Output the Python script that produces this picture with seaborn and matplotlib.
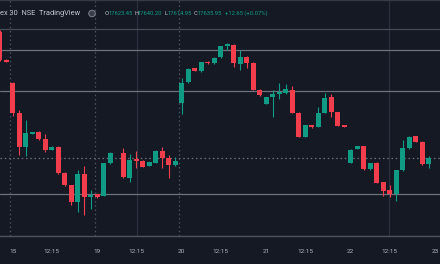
import numpy as np
import pandas as pd
import matplotlib
matplotlib.use("Agg")
import matplotlib.pyplot as plt
import seaborn as sns
from matplotlib.patches import Circle
from matplotlib.transforms import IdentityTransform

# ---- data (30-minute candles, index 0 = first candle of day 15) ----
nan = np.nan
candle_idx = list(range(-2, 65))
opens = [17899, 17841, 17792, 17729, 17660, 17687, 17690, 17675, 17654, 17660, 17606, 17580,
         17544, 17603, 17556, 17561, 17558, 17625, nan, 17646, 17595, 17632, 17631, 17620,
         17627, 17650, 17636, 17621, 17750, 17794, 17823, 17817, 17837, 17833, 17846, 17870,
         17872, 17832, 17847, 17835, 17778, 17749, 17764, 17770, 17771, 17778, 17731, 17681,
         17705, 17701, 17731, 17763, 17732, 17705, 17626, 17656, 17661, 17613, 17627, 17586,
         17569, 17561, 17611, 17657, 17682, 17670, 17623.45]
closes = [17840, 17837, 17729, 17660, 17688, 17689, 17675, 17654, 17660, 17605, 17580, 17544,
          17603, 17556, 17560, 17556, 17625, 17646, nan, 17596, 17633, 17631, 17618, 17628,
          17651, 17636, 17621, 17631, 17793, 17821, 17818, 17836, 17833, 17845, 17869, 17872,
          17833, 17847, 17834, 17778, 17767, 17763, 17770, 17772, 17779, 17731, 17681, 17704,
          17700, 17731, 17762, 17732, 17703, 17701, 17654, 17661, 17613, 17626, 17585, 17568,
          17561, 17611, 17658, 17681, 17670, 17623, 17635.95]
highs = [17903, 17842, 17794, 17737, 17715, 17690, 17692, 17687, 17661, 17661, 17607, 17581,
         17611, 17620, 17570, 17562, 17627, 17648, nan, 17657, 17645, 17651, 17632, 17629,
         17652, 17659, 17643, 17639, 17802, 17823, 17824, 17837, 17838, 17846, 17870, 17875,
         17874, 17861, 17849, 17836, 17779, 17764, 17778, 17792, 17791, 17786, 17732, 17705,
         17706, 17743, 17772, 17769, 17733, 17706, 17656, 17662, 17662, 17627, 17628, 17587,
         17581, 17612, 17674, 17682, 17683, 17671, 17640.20]
lows = [17838, 17836, 17724, 17643, 17640, 17686, 17673, 17649, 17653, 17603, 17578, 17539,
        17524, 17518, 17530, 17554, 17557, 17624, nan, 17595, 17587, 17615, 17617, 17619,
        17626, 17616, 17594, 17620, 17728, 17792, 17817, 17816, 17832, 17832, 17844, 17860,
        17826, 17820, 17824, 17777, 17766, 17748, 17722, 17759, 17770, 17730, 17680, 17680,
        17699, 17700, 17730, 17722, 17702, 17700, 17625, 17655, 17612, 17612, 17584, 17558,
        17555, 17547, 17610, 17656, 17669, 17622, 17614.95]

tick_pos = [0, 6, 13, 19, 26, 32, 39, 45, 52, 58, 65]
tick_labels = ["15", "12:15", "19", "12:15", "20", "12:15", "21", "12:15", "22", "12:15", "23"]
session_breaks = [-0.35, 12.65, 25.65]
faint_vlines = [19.1, 57.9]
drawn_levels = [17860, 17776, 17561.5]
upper_level = 17904
last_price = 17635.95

header_name = "ex 30  NSE  TradingView"
ohlc_labels = ["O", "H", "L", "C"]
ohlc_values = ["17623.45", "17640.20", "17614.95", "17635.95"]
change_text = "+12.65 (+0.07%)"

# ---- style ----
BG = "#151924"
UP = "#0f9b84"
DOWN = "#f23e4c"
sns.set_theme(style="dark", rc={"axes.facecolor": BG, "figure.facecolor": BG})
plt.rcParams["font.family"] = ["Roboto", "DejaVu Sans"]

df = pd.DataFrame({"i": candle_idx, "o": opens, "c": closes, "h": highs, "l": lows}).dropna()
df["up"] = df["c"] >= df["o"]
df["color"] = np.where(df["up"], UP, DOWN)
df["bottom"] = df[["o", "c"]].min(axis=1)
df["height"] = (df["c"] - df["o"]).abs().clip(lower=2.8)

fig = plt.figure(figsize=(4.4, 2.64), dpi=100)
ax = fig.add_axes([0, 28.5 / 264, 1, 235.5 / 264])
ax.set_facecolor(BG)

# grid / drawn lines
for xb in session_breaks:
    ax.axvline(xb, color="#4b5263", lw=0.9, ls=(0, (1.2, 2.2)), zorder=1)
for xv in faint_vlines:
    ax.axvline(xv, color="#2b303c", lw=0.9, zorder=1)
for lv in drawn_levels:
    ax.axhline(lv, color="#6e717b", lw=0.9, zorder=1)
ax.axhline(upper_level, color="#474b57", lw=0.9, zorder=1)
ax.axhline(last_price, color="#6e717b", lw=0.9, ls=(0, (1.2, 2.2)), zorder=1)

# candles
ax.vlines(df["i"], df["l"], df["h"], colors=df["color"], lw=0.8, zorder=2)
ax.bar(df["i"], df["height"], bottom=df["bottom"], width=0.82, color=df["color"],
       linewidth=0, zorder=3)

ax.set_xlim(-1.954, 65.74)
ax.set_ylim(17475.2, 17965)
ax.set_yticks([])
ax.set_xticks(tick_pos)
ax.set_xticklabels(tick_labels)
ax.tick_params(axis="x", length=0, pad=9.5, labelsize=4.6, colors="#b2b5be")
ax.grid(False)
for s in ["left", "right"]:
    ax.spines[s].set_visible(False)
ax.spines["bottom"].set_color("#50535e")
ax.spines["bottom"].set_linewidth(1.0)
ax.spines["top"].set_color("#363a45")
ax.spines["top"].set_linewidth(1.0)

# header legend
yh = 1 - 13.5 / 264
fig.text(0 / 440, yh, header_name, color="#c3c6ce", fontsize=5.3, va="center", ha="left")
fig.add_artist(Circle((92, 264 - 13.5), radius=3.3, transform=IdentityTransform(),
                      facecolor="#3a3e4a", edgecolor="#8a8d96", lw=0.6))
xs = [105, 134, 164, 194]
for x, lab, val in zip(xs, ohlc_labels, ohlc_values):
    fig.text(x / 440, yh, lab, color="#c3c6ce", fontsize=4.2, va="center", ha="left")
    fig.text((x + 4) / 440, yh, val, color=UP, fontsize=4.2, va="center", ha="left")
fig.text(225 / 440, yh, change_text, color=UP, fontsize=4.2, va="center", ha="left")

fig.savefig("out.png", dpi=100, facecolor=BG)
